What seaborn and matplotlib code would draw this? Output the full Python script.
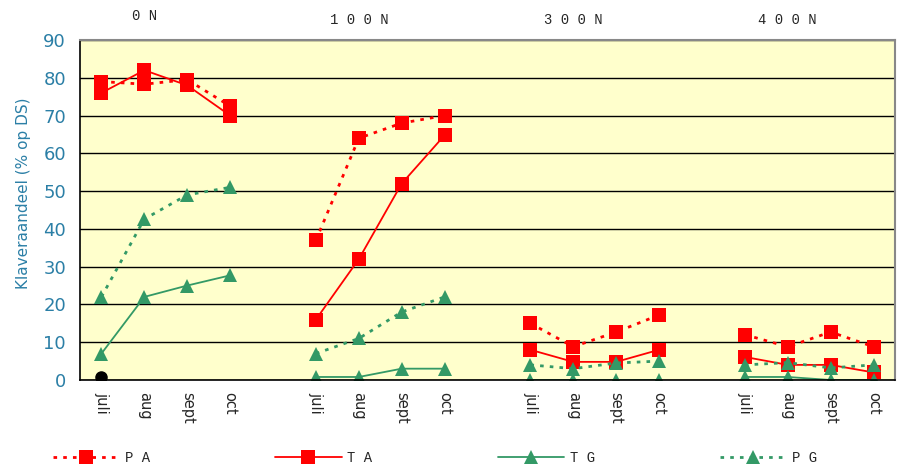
import matplotlib
matplotlib.use("Agg")
import matplotlib.pyplot as plt
import seaborn as sns
import pandas as pd

# data
groups = ["0 N", "100 N", "300 N", "400 N"]
months = ["juli", "aug", "sept", "oct"]

PA = [79, 78.3, 79.5, 72.5,   37, 64, 68, 70,   15, 8.8, 12.7, 17.2,   12, 8.8, 12.7, 8.8]
TA = [76, 82, 78, 70,         16, 32, 52, 64.8, 8, 4.8, 4.8, 8,        6.1, 4, 4, 2]
TG = [7, 22, 25, 27.7,        0.8, 0.8, 3, 3,   0, 0, 0, 0,            0.8, 0.8, 0, 0]
PG = [22, 42.6, 49, 51,       7, 11, 18, 22,    4, 3, 4.5, 5,          4, 4.6, 3.2, 4]
black_dot = 0.8   # single point at 0 N / juli

series = {"PA": PA, "TA": TA, "TG": TG, "PG": PG}

# 4 months per group with one empty slot between groups
rows = []
for name, vals in series.items():
    for g in range(len(groups)):
        for m in range(len(months)):
            rows.append({"pos": g * 5 + m, "val": vals[g * 4 + m],
                         "serie": name, "grp": g})
df = pd.DataFrame(rows)

sns.set_style("white")
plt.rcParams['font.family'] = ['DejaVu Sans']

fig = plt.figure(figsize=(8.98, 4.67), dpi=100)
ax = fig.add_axes([80 / 898, 1 - 380 / 467, 815 / 898, 340 / 467])
ax.set_facecolor("#FFFFCC")

red = "#FF0000"
green = "#339966"
sns.lineplot(data=df, x="pos", y="val", hue="serie", style="serie", units="grp",
             estimator=None, ax=ax,
             hue_order=["PA", "TA", "TG", "PG"],
             palette={"PA": red, "TA": red, "TG": green, "PG": green},
             dashes={"PA": (1.3, 2.2), "TA": "", "TG": "", "PG": (1.3, 2.2)},
             markers={"PA": "s", "TA": "s", "TG": "^", "PG": "^"},
             markersize=9.5, markeredgewidth=0, linewidth=1.3, sort=False)

# make dotted lines thicker like the original
for line in ax.get_lines():
    if line.get_linestyle() not in ("-", "solid"):
        line.set_linewidth(2.0)

ax.plot([0], [black_dot], "o", color="black", markersize=8, zorder=5)

ax.set_ylim(0, 90)
ax.set_xlim(-0.5, 18.5)
ax.set_yticks(range(0, 91, 10))
ax.grid(axis="y", color="black", linewidth=1)
ax.set_axisbelow(True)

label_pos = [g * 5 + m for g in range(len(groups)) for m in range(len(months))]
ax.set_xticks(label_pos)
ax.set_xticklabels(months * len(groups), rotation=-90, fontsize=10.5)
ax.set_xticks([i - 0.5 for i in range(20)], minor=True)
ax.tick_params(axis="x", which="major", length=0, pad=9)
ax.tick_params(axis="x", which="minor", length=6, width=1, color="black", direction="out")
ax.tick_params(axis="y", length=6, width=1, color="black", direction="out",
               labelsize=13, labelcolor="#2B7FA6", pad=4)
ax.set_xlabel("")
ax.set_ylabel("Klaveraandeel (% op DS)", color="#2B7FA6", fontsize=11)
ax.yaxis.set_label_coords(-0.060, 0.55)

for s in ["left", "bottom"]:
    ax.spines[s].set_color("black")
    ax.spines[s].set_linewidth(1.2)
for s in ["top", "right"]:
    ax.spines[s].set_color("#888888")
    ax.spines[s].set_linewidth(1.5)

# group headings above the plot
for g, name in enumerate(groups):
    ax.text(g * 5 + 1, 1.07 if g == 0 else 1.06,
            " ".join(name.replace(" ", "")[:-1]) + " N",
            transform=ax.get_xaxis_transform(), ha="center", va="center",
            fontsize=10, family="Liberation Mono")

handles, labels = ax.get_legend_handles_labels()
ax.legend_.remove()
fig.legend(handles, [" ".join(l) for l in labels], ncol=4, loc="center left",
           bbox_to_anchor=(40 / 898, 9 / 467, 790 / 898, 0.001), mode="expand",
           frameon=False, handlelength=4.8, handletextpad=0.4,
           prop={"family": "Liberation Mono", "size": 10})

fig.savefig("out.png", dpi=100)
